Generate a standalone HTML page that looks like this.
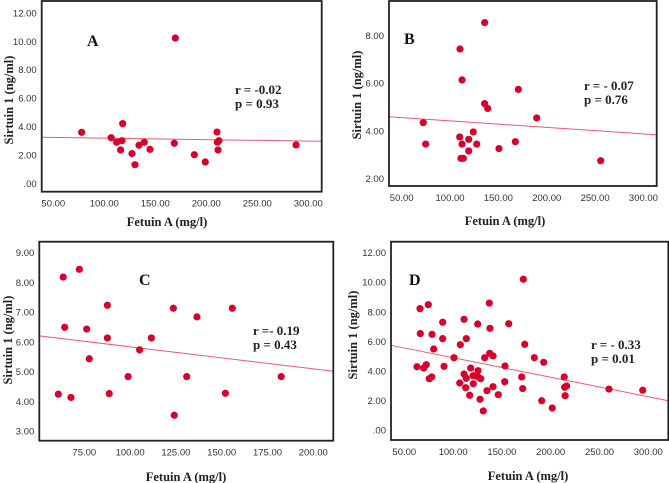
<!DOCTYPE html>
<html><head><meta charset="utf-8">
<style>
body{margin:0;background:#fff;width:669px;height:483px;overflow:hidden}
svg{display:block}
.tk{font-family:"Liberation Sans Narrow","Liberation Sans",sans-serif;font-size:9.5px;fill:#333}
.tt{font-family:"Liberation Serif","Times New Roman","DejaVu Serif",serif;font-weight:bold;font-size:12.5px;fill:#222}
.st{font-family:"Liberation Serif","Times New Roman","DejaVu Serif",serif;font-weight:bold;font-size:13px;fill:#222}
.lt{font-family:"Liberation Serif","Times New Roman","DejaVu Serif",serif;font-weight:bold;font-size:16px;fill:#111}
</style></head>
<body>
<svg id="c" width="669" height="483"></svg>
<script>
// Panel A
const axA = [77.8,106.7,112.1,117.3,118,116,127.2,130.1,134,139.2,144.8,168.6,169.6,188.3,199,210.5,210.8,212.4,211.5,288];
const ayA = [3.59,3.21,2.89,3.0,4.2,2.35,2.09,1.31,2.68,2.89,2.39,2.82,10.23,2.01,1.5,3.61,2.89,3.0,2.35,2.7];
const trendA = [3.279,-0.00102];
const xTicksA = ["50.00","100.00","150.00","200.00","250.00","300.00"];
const yTicksA = [".00","2.00","4.00","6.00","8.00","10.00","12.00"];
// Panel B
const axB = [72.3,74.8,110.3,112.4,135.8,135.8,138.9,170.6,189.6,110,112.4,119.3,124,127.6,119.3,111.3,113.7,150.6,167.5,255.8];
const ayB = [4.34,3.44,7.44,6.14,8.55,5.14,4.94,5.74,4.54,3.74,3.44,3.64,3.95,3.44,3.15,2.84,2.84,3.25,3.54,2.74];
const trendB = [4.691,-0.002746];
const xTicksB = ["50.00","100.00","150.00","200.00","250.00","300.00"];
const yTicksB = ["2.00","4.00","6.00","8.00"];
// Panel C
const axC = [60.8,63.5,64.3,67.7,72.3,76.3,77.7,87.6,87.6,88.6,98.9,105.2,111.6,123.6,124.1,130.9,136.5,152,155.8,182.5];
const ayC = [4.24,8.18,6.49,4.13,8.44,6.43,5.43,7.23,6.13,4.26,4.83,5.73,6.13,7.13,3.53,4.83,6.84,4.27,7.13,4.83];
const trendC = [6.574,-0.007414];
const xTicksC = ["75.00","100.00","125.00","150.00","175.00","200.00"];
const yTicksC = ["3.00","4.00","5.00","6.00","7.00","8.00","9.00"];
// Panel D
const axD = [63,66.1,66.4,69.9,72.5,74.6,75.6,78.1,78.4,80.1,89.3,89.3,90.7,100.9,106.8,107.4,111.2,111.2,112.9,113.5,113.5,117,118,120.4,120.7,125.2,125.5,125.5,127.6,128.3,130.9,132.4,134.7,137.1,137.8,137.5,140.9,140.9,146.3,153.2,152.9,157,170.3,171.3,171.9,173.4,183.2,190.8,192.8,201.6,213.9,214.3,216.3,214.8,259.7,294.3];
const ayD = [4.28,8.21,6.52,4.19,4.42,8.48,3.47,3.59,6.47,5.48,7.29,6.18,4.31,4.89,3.18,5.77,7.49,3.79,2.86,6.18,3.5,2.35,4.19,3.67,3.13,7.17,4.01,3.59,2.08,3.47,1.29,4.89,2.66,8.59,6.88,5.19,5.01,2.93,2.39,4.33,3.27,7.19,3.59,2.80,10.2,5.8,4.89,1.98,4.58,1.49,3.59,2.89,2.98,2.32,2.77,2.69];
const trendD = [6.21,-0.0132];
const xTicksD = ["50.00","100.00","150.00","200.00","250.00","300.00"];
const yTicksD = [".00","2.00","4.00","6.00","8.00","10.00","12.00"];

const NS="http://www.w3.org/2000/svg";
const svg=document.getElementById('c');
function mk(t,a,p){const e=document.createElementNS(NS,t);for(const k in a)e.setAttribute(k,a[k]);(p||svg).appendChild(e);return e;}

function panel(o){
  const g=mk('g',{});
  
  
  const sx=v=>o.x0px+(v-o.x0v)*o.xk, sy=v=>o.y0px-(v-o.y0v)*o.yk;
  o.yt.forEach(t=>{const v=parseFloat(t);const e=mk('text',{x:o.box[0]-5,y:sy(v)+3.5,'text-anchor':'end',class:'tk'},g);e.textContent=t;
    
    });
  o.xt.forEach(t=>{const v=parseFloat(t);const e=mk('text',{x:sx(v),y:o.box[3]+15,'text-anchor':'middle',class:'tk'},g);e.textContent=t;
    
    });
  const xa=(o.box[0]-o.x0px)/o.xk+o.x0v, xb=(o.box[2]-o.x0px)/o.xk+o.x0v;
  const ln=mk('line',{x1:o.box[0],y1:sy(o.tr[0]+o.tr[1]*xa),x2:o.box[2],y2:sy(o.tr[0]+o.tr[1]*xb),stroke:'#ec5a70','stroke-width':1},g);
  
  
  o.xs.forEach((v,i)=>{const c=mk('circle',{cx:sx(v),cy:sy(o.ys[i]),r:3.6,fill:'#d9002b'},g);
    
    });
  const b=mk('rect',{x:o.box[0],y:o.box[1],width:o.box[2]-o.box[0],height:o.box[3]-o.box[1],fill:'none',stroke:'#222','stroke-width':1.8},g);
  
  
  let e=mk('text',{x:o.L[0],y:o.L[1],class:'lt'},g);e.textContent=o.id;
  
  
  e=mk('text',{x:o.R[0],y:o.R[1],class:'st'},g);e.textContent=o.r;
  
  
  e=mk('text',{x:o.R[0],y:o.R[1]+14,class:'st'},g);e.textContent=o.p;
  
  
  e=mk('text',{x:o.XT[0],y:o.XT[1],'text-anchor':'middle',class:'tt'},g);e.textContent=o.xtitle;
  
  
  e=mk('text',{x:0,y:0,'text-anchor':'middle',class:'tt',transform:`translate(${o.YT[0]},${o.YT[1]}) rotate(-90)`},g);e.textContent=o.ytitle;
  
  
}
panel({id:'A',xs:axA,ys:ayA,tr:trendA,xt:xTicksA,yt:yTicksA,box:[41.7,1,321.7,191.7],
  x0v:50,x0px:53.3,xk:1.02,y0v:0,y0px:183.3,yk:14.2,L:[87,46],R:[235,94],r:'r = -0.02',p:'p = 0.93',
  XT:[167,226],xtitle:'Fetuin A (mg/l)',YT:[13,100],ytitle:'Sirtuin 1 (ng/ml)'});
panel({id:'B',xs:axB,ys:ayB,tr:trendB,xt:xTicksB,yt:yTicksB,box:[389,1,656.7,186],
  x0v:50,x0px:401.7,xk:0.967,y0v:2,y0px:178.3,yk:23.77,L:[404,44],R:[584,90],r:'r = - 0.07',p:'p = 0.76',
  XT:[505,225],xtitle:'Fetuin A (mg/l)',YT:[361,95],ytitle:'Sirtuin 1  (ng/ml)'});
panel({id:'C',xs:axC,ys:ayC,tr:trendC,xt:xTicksC,yt:yTicksC,box:[39.3,241.7,333.3,440.7],
  x0v:75,x0px:84.3,xk:1.832,y0v:3,y0px:431,yk:29.72,L:[139,285],R:[253,335],r:'r =- 0.19',p:'p = 0.43',
  XT:[186,481],xtitle:'Fetuin A  (mg/l)',YT:[12,340],ytitle:'Sirtuin 1 (ng/ml)'});
panel({id:'D',xs:axD,ys:ayD,tr:trendD,xt:xTicksD,yt:yTicksD,box:[391,241.7,668.3,440],
  x0v:50,x0px:404.3,xk:0.976,y0v:0,y0px:430,yk:14.78,L:[409,285],R:[591,349],r:'r = - 0.33',p:'p = 0.01',
  XT:[528,480],xtitle:'Fetuin A (mg/l)',YT:[357,335],ytitle:'Sirtuin 1 (ng/ml)'});
</script>
</body></html>
